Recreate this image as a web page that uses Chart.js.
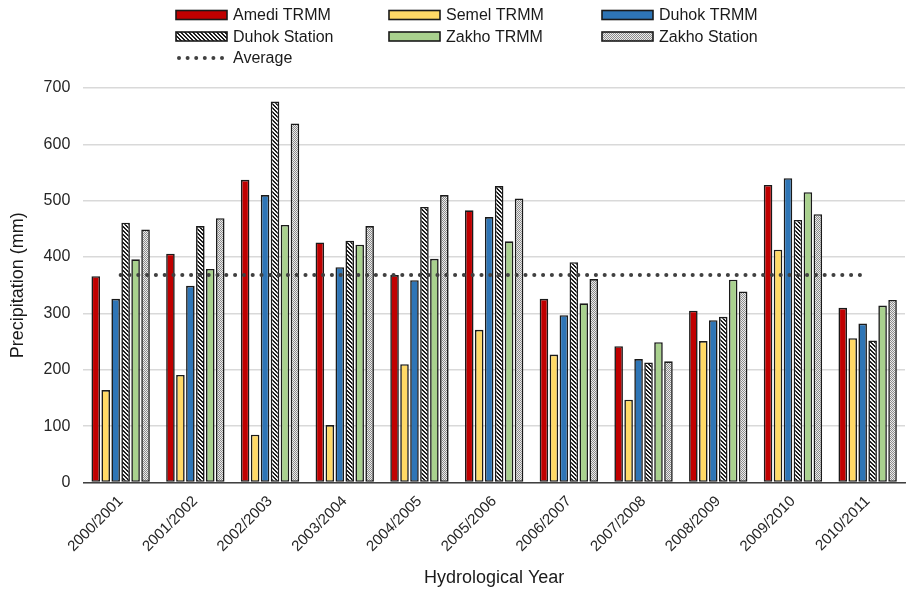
<!DOCTYPE html>
<html>
<head>
<meta charset="utf-8">
<script src="https://cdn.jsdelivr.net/npm/chart.js@4.4.1/dist/chart.umd.min.js"></script>
<style>
  html, body { margin: 0; padding: 0; background: #fff; }
</style>
</head>
<body>
<canvas id="chart" width="910" height="593"></canvas>
<script>
const years = ["2000/2001", "2001/2002", "2002/2003", "2003/2004", "2004/2005", "2005/2006",
  "2006/2007", "2007/2008", "2008/2009", "2009/2010", "2010/2011"];
const amediTRMM = [366, 406, 537, 426, 368, 483, 326, 242, 305, 528, 310];
const semelTRMM = [164, 191, 85, 102, 210, 271, 227, 147, 251, 413, 256];
const duhokTRMM = [326, 349, 510, 382, 359, 471, 297, 219, 288, 540, 282];
const duhokStation = [461, 455, 676, 429, 489, 526, 391, 213, 294, 466, 252];
const zakhoTRMM = [396, 379, 457, 422, 397, 428, 318, 249, 360, 515, 314];
const zakhoStation = [449, 469, 637, 455, 510, 504, 361, 215, 339, 476, 324];
const average = [368, 368, 368, 368, 368, 368, 368, 368, 368, 368, 368];

const FONT = "'Liberation Sans', Arial, sans-serif";

// hatch patterns for the station series
function makePattern(size, paint) {
  const c = document.createElement("canvas");
  c.width = size;
  c.height = size;
  const g = c.getContext("2d");
  const img = g.createImageData(size, size);
  for (let y = 0; y < size; y++) {
    for (let x = 0; x < size; x++) {
      const v = paint(x, y);
      const i = (y * size + x) * 4;
      img.data[i] = v; img.data[i + 1] = v; img.data[i + 2] = v; img.data[i + 3] = 255;
    }
  }
  g.putImageData(img, 0, 0);
  return g.createPattern(c, "repeat");
}
const stripes = makePattern(4, (x, y) => (((x - y) % 4 + 4) % 4 < 2 ? 30 : 245));
const dots = makePattern(2, (x, y) => ((x + y) % 2 == 0 ? 140 : 235));

// legend drawn in 3 fixed columns like the original
const gridLegend = {
  id: "gridLegend",
  afterDraw(chart) {
    const ctx = chart.ctx;
    const cols = [176, 389, 602];
    const rows = [15, 36.5, 58];
    ctx.save();
    ctx.font = "16px " + FONT;
    ctx.textBaseline = "middle";
    chart.data.datasets.forEach((ds, i) => {
      const x = cols[i % 3];
      const y = rows[Math.floor(i / 3)];
      if (ds.type == "line") {
        ctx.fillStyle = "#404040";
        for (let k = 0; k < 6; k++) {
          ctx.beginPath();
          ctx.arc(x + 3 + k * 8.6, y, 2, 0, Math.PI * 2);
          ctx.fill();
        }
      } else {
        ctx.fillStyle = ds.backgroundColor;
        ctx.fillRect(x, y - 4.5, 51, 9);
        ctx.strokeStyle = "#1a1a1a";
        ctx.lineWidth = 1.6;
        ctx.strokeRect(x, y - 4.5, 51, 9);
      }
      ctx.fillStyle = "#1a1a1a";
      ctx.fillText(ds.label, x + 57, y + 1);
    });
    ctx.restore();
  },
};

function barSet(label, data, color) {
  return {
    type: "bar",
    label: label,
    data: data,
    backgroundColor: color,
    borderColor: "#1a1a1a",
    borderWidth: 1.6,
    borderSkipped: false,
    categoryPercentage: 0.8,
    barPercentage: 0.86,
    order: 1,
  };
}

new Chart(document.getElementById("chart"), {
  data: {
    labels: years,
    datasets: [
      barSet("Amedi TRMM", amediTRMM, "#c00000"),
      barSet("Semel TRMM", semelTRMM, "#ffd966"),
      barSet("Duhok TRMM", duhokTRMM, "#2e75b6"),
      barSet("Duhok Station", duhokStation, stripes),
      barSet("Zakho TRMM", zakhoTRMM, "#a9d18e"),
      barSet("Zakho Station", zakhoStation, dots),
      {
        type: "line",
        label: "Average",
        data: average,
        borderColor: "#404040",
        borderWidth: 4,
        borderDash: [0.1, 8.7],
        borderCapStyle: "round",
        pointRadius: 0,
        fill: false,
        order: 0,
      },
    ],
  },
  options: {
    responsive: false,
    animation: false,
    layout: { padding: { top: 88, left: 3, right: 5, bottom: 0 } },
    plugins: {
      legend: { display: false },
      tooltip: { enabled: false },
    },
    scales: {
      x: {
        offset: true,
        grid: { display: false },
        border: { display: true, color: "#404040", width: 1.5 },
        ticks: {
          color: "#262626",
          font: { family: FONT, size: 15 },
          minRotation: 45,
          maxRotation: 45,
          padding: 2,
        },
        title: {
          display: true,
          text: "Hydrological Year",
          color: "#1a1a1a",
          font: { family: FONT, size: 18 },
          padding: { top: 10 },
        },
      },
      y: {
        min: 0,
        max: 700,
        ticks: {
          stepSize: 100,
          color: "#262626",
          font: { family: FONT, size: 16 },
          padding: 13,
        },
        grid: { color: "#d9d9d9", lineWidth: 1.5, drawTicks: false },
        border: { display: false },
        title: {
          display: true,
          text: "Precipitation (mm)",
          color: "#1a1a1a",
          font: { family: FONT, size: 18 },
          padding: { bottom: 2 },
        },
      },
    },
  },
  plugins: [gridLegend],
});
</script>
</body>
</html>
